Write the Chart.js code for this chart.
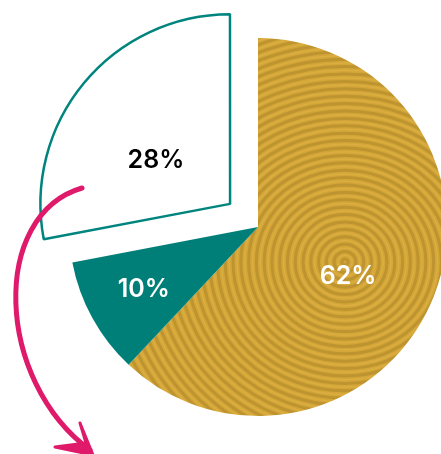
<!DOCTYPE html>
<html lang="en">
<head>
    <meta charset="UTF-8">
    <title>Pie</title>
    <style>
        html, body {
            margin: 0;
            padding: 0;
            background: #ffffff;
        }
        .chart-box {
            width: 441px;
            height: 454px;
            position: relative;
        }
    </style>
</head>
<body>
    <div class="chart-box">
        <canvas id="pie"></canvas>
    </div>

    <script src="https://cdn.jsdelivr.net/npm/chart.js"></script>
    <script>
        // data
        const categories = ['A', 'B', 'C'];
        const shares = [62, 10, 28];
        const shareLabels = ['62%', '10%', '28%'];

        // golden ring texture, aligned to the canvas
        function makeRingPattern(w, h, cx, cy) {
            const c = document.createElement('canvas');
            c.width = w;
            c.height = h;
            const g = c.getContext('2d');
            g.fillStyle = '#d4a638';
            g.fillRect(0, 0, w, h);
            g.strokeStyle = 'rgba(135, 105, 30, 0.30)';
            g.lineWidth = 3;
            for (let r = 3; r < 420; r += 7.4) {
                g.beginPath();
                g.ellipse(cx, cy, r * 1.05, r, 0, 0, Math.PI * 2);
                g.stroke();
            }
            g.strokeStyle = 'rgba(235, 192, 85, 0.30)';
            g.lineWidth = 1.5;
            for (let r = 6.7; r < 420; r += 7.4) {
                g.beginPath();
                g.ellipse(cx, cy, r * 1.05, r, 0, 0, Math.PI * 2);
                g.stroke();
            }
            return g.createPattern(c, 'no-repeat');
        }

        const ctx = document.getElementById('pie').getContext('2d');
        const gold = makeRingPattern(441, 454, 345, 262);

        // label placement: [fraction of radius, angle shift in degrees]
        const labelPos = [[0.545, 7.4], [0.69, 0], [0.45, -9.6]];
        const labelColors = ['#ffffff', '#ffffff', '#000000'];

        const labelPlugin = {
            id: 'sliceLabels',
            afterDatasetsDraw(chart) {
                const c = chart.ctx;
                const arcs = chart.getDatasetMeta(0).data;
                c.save();
                c.font = '600 25px Inter, "Open Sans", sans-serif';
                c.textAlign = 'center';
                c.textBaseline = 'middle';
                arcs.forEach((arc, i) => {
                    const p = arc.getProps(['x', 'y', 'startAngle', 'endAngle', 'outerRadius'], true);
                    const mid = (p.startAngle + p.endAngle) / 2;
                    const off = (arc.options.offset || 0) / 4;
                    const fix = 1 - Math.sin(Math.min(Math.PI, p.endAngle - p.startAngle));
                    const shift = off * (1 + fix);
                    const a = mid + labelPos[i][1] * Math.PI / 180;
                    const r = p.outerRadius * labelPos[i][0];
                    const x = p.x + Math.cos(mid) * shift + Math.cos(a) * r;
                    const y = p.y + Math.sin(mid) * shift + Math.sin(a) * r;
                    c.fillStyle = labelColors[i];
                    c.fillText(shareLabels[i], x, y);
                });
                c.restore();
            }
        };

        // pink hand-drawn arrow, placed relative to the pie centre
        const arrowPlugin = {
            id: 'pinkArrow',
            afterDatasetsDraw(chart) {
                const arc = chart.getDatasetMeta(0).data[0];
                const ox = arc.x, oy = arc.y;
                const k = arc.outerRadius / 189;
                const P = (dx, dy) => [ox + dx * k, oy + dy * k];
                const c = chart.ctx;
                c.save();
                c.strokeStyle = '#e01a6b';
                c.fillStyle = '#e01a6b';
                c.lineCap = 'round';
                c.lineJoin = 'round';
                const s = P(-176, -39), c1 = P(-268, -12), c2 = P(-263, 153), e = P(-168, 223);
                c.lineWidth = 5;
                c.beginPath();
                c.moveTo(s[0], s[1]);
                c.bezierCurveTo(c1[0], c1[1], c2[0], c2[1], e[0], e[1]);
                c.stroke();
                const tip = P(-165, 228), b1 = P(-178, 196), b2 = P(-203, 220), m = P(-172, 216);
                c.beginPath();
                c.moveTo(tip[0], tip[1]);
                c.lineTo(b1[0], b1[1]);
                c.lineTo(m[0], m[1]);
                c.lineTo(b2[0], b2[1]);
                c.closePath();
                c.fill();
                c.lineWidth = 3;
                c.stroke();
                c.restore();
            }
        };

        new Chart(ctx, {
            type: 'pie',
            data: {
                labels: categories,
                datasets: [{
                    data: shares,
                    backgroundColor: [gold, '#007f78', '#ffffff'],
                    borderColor: ['rgba(0,0,0,0)', 'rgba(0,0,0,0)', '#00847e'],
                    borderWidth: [0, 0, 2.5],
                    offset: [0, 0, 145],
                    clip: false
                }]
            },
            options: {
                responsive: true,
                maintainAspectRatio: false,
                animation: false,
                radius: 189,
                layout: {
                    padding: { left: 75, right: 0, top: 0, bottom: 0 }
                },
                plugins: {
                    legend: { display: false },
                    tooltip: { enabled: false }
                },
                events: []
            },
            plugins: [labelPlugin, arrowPlugin]
        });
    </script>
</body>
</html>
